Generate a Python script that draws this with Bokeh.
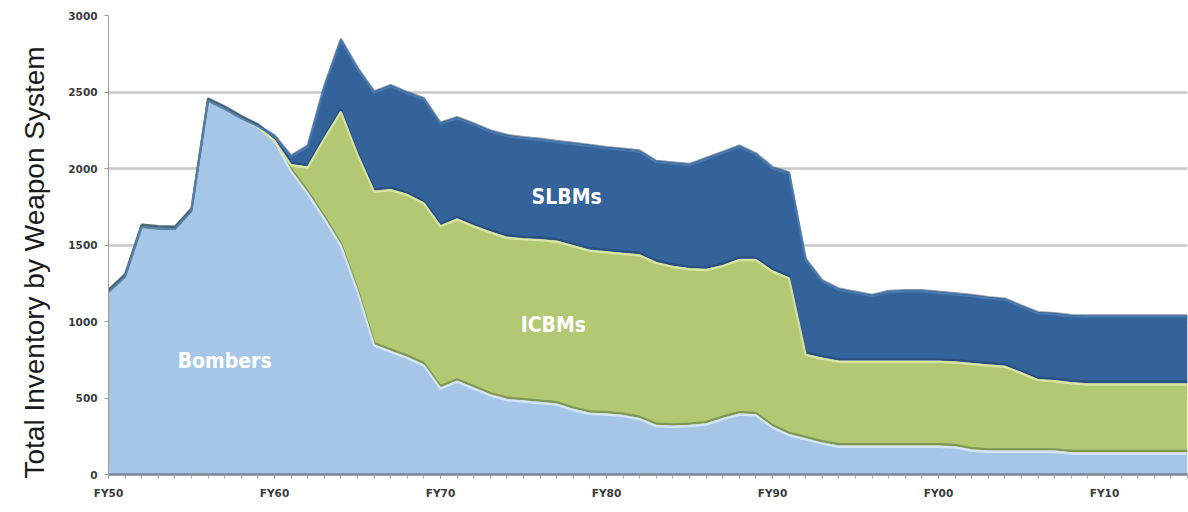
import numpy as np
from bokeh.plotting import figure
from bokeh.models import ColumnDataSource, FixedTicker, Label, Range1d, Title
from bokeh.embed import file_html
from bokeh.resources import INLINE

# ---------------- data ----------------
years = list(range(1950, 2016))

bombers = [1200, 1300, 1625, 1615, 1612, 1730, 2450, 2397, 2336, 2280,
           2190, 1990, 1845, 1680, 1503, 1205, 852, 810, 770, 720,
           570, 615, 570, 525, 495, 485, 475, 465, 430, 405,
           400, 390, 370, 325, 320, 325, 335, 370, 400, 395,
           315, 265, 238, 210, 190, 190, 190, 190, 190, 190,
           190, 185, 165, 157, 157, 157, 157, 157, 146, 146,
           146, 146, 146, 146, 146, 146]

icbms = [0, 0, 0, 0, 0, 0, 0, 0, 0, 0,
         0, 40, 170, 523, 876, 895, 1004, 1057, 1065, 1060,
         1060, 1060, 1060, 1065, 1060, 1060, 1065, 1065, 1070, 1065,
         1060, 1060, 1070, 1065, 1045, 1025, 1010, 1000, 1010, 1015,
         1020, 1025, 552, 555, 555, 555, 555, 555, 555, 555,
         555, 555, 565, 563, 555, 513, 468, 461, 459, 451,
         451, 451, 451, 451, 451, 451]

slbms = [0, 0, 0, 0, 0, 0, 0, 0, 0, 5,
         28, 55, 135, 337, 469, 560, 649, 678, 665, 680,
         670, 661, 665, 660, 665, 660, 655, 650, 668, 685,
         680, 680, 678, 660, 675, 680, 725, 740, 740, 690,
         675, 685, 620, 505, 470, 450, 430, 455, 460, 460,
         450, 445, 445, 440, 438, 435, 437, 437, 437, 443,
         443, 443, 443, 443, 443, 443]

x_tick_years = [1950, 1960, 1970, 1980, 1990, 2000, 2010]
x_tick_labels = ["FY50", "FY60", "FY70", "FY80", "FY90", "FY00", "FY10"]
y_ticks = [0, 500, 1000, 1500, 2000, 2500, 3000]

series_names = ["Bombers", "ICBMs", "SLBMs"]
label_pos = {"Bombers": (1957.0, 740), "ICBMs": (1976.8, 975), "SLBMs": (1977.6, 1815)}
y_title = "Total Inventory by Weapon System"

# ---------------- styles ----------------
fill_colors = {"Bombers": "#a6c6e8", "ICBMs": "#b2c872", "SLBMs": "#33639a"}
highlight = {"Bombers": "#dbe9f7", "ICBMs": "#dfe8a8", "SLBMs": "#4a7bb0"}
shadow = {"Bombers": "#54703a", "ICBMs": "#1f3f66", "SLBMs": "#24466e"}

src = ColumnDataSource(dict(year=years, Bombers=bombers, ICBMs=icbms, SLBMs=slbms))

p = figure(width=1188, height=512, output_backend="svg", toolbar_location=None,
           x_range=Range1d(1950, 2015), y_range=Range1d(0, 3000),
           min_border_left=108, min_border_right=1, min_border_top=15,
           min_border_bottom=38)
p.outline_line_color = None
p.background_fill_color = "white"
p.border_fill_color = "white"

p.varea_stack(stackers=series_names, x="year", source=src,
              color=[fill_colors[s] for s in series_names])

# bevel-like boundary lines
cum = np.zeros(len(years))
tops = {}
for s, vals in zip(series_names, [bombers, icbms, slbms]):
    cum = cum + np.array(vals, dtype=float)
    tops[s] = cum.copy()

xs = np.array(years, dtype=float)
for s in series_names:
    t = tops[s]
    sh_off = 8 if s != "SLBMs" else 0
    p.line(xs, t + sh_off, line_color=shadow[s], line_width=2.2, line_alpha=0.55)
    p.line(xs, t - 9, line_color=highlight[s], line_width=2.2, line_alpha=0.9)

# axes
p.xaxis.ticker = FixedTicker(ticks=x_tick_years, minor_ticks=years)
p.xaxis.major_label_overrides = {y: l for y, l in zip(x_tick_years, x_tick_labels)}
p.yaxis.ticker = FixedTicker(ticks=y_ticks)
p.xgrid.visible = False
p.ygrid.ticker = FixedTicker(ticks=y_ticks)
p.ygrid.grid_line_color = "#c8c8c8"
p.ygrid.grid_line_width = 2.5
p.ygrid.level = "underlay"

for ax in (p.xaxis, p.yaxis):
    ax.major_label_text_font = "DejaVu Sans"
    ax.major_label_text_font_style = "bold"
    ax.major_label_text_font_size = "10.5px"
    ax.major_label_text_color = "#3a3a3a"
    ax.major_tick_in = 0
    ax.minor_tick_in = 0

p.xaxis.axis_line_color = "#7a8494"
p.xaxis.axis_line_width = 2.5
p.xaxis.major_tick_out = 4
p.xaxis.minor_tick_out = 4
p.xaxis.major_tick_line_color = "#9aa0aa"
p.xaxis.minor_tick_line_color = "#9aa0aa"
p.xaxis.major_label_standoff = 8

p.yaxis.axis_line_color = "#9a9a9a"
p.yaxis.axis_line_width = 1
p.yaxis.major_tick_out = 4
p.yaxis.major_tick_line_color = "#9a9a9a"
p.yaxis.minor_tick_line_color = None
p.yaxis.major_label_standoff = 7

# y axis title as a side title (vertical) in the left border
ttl = Title(text=y_title, align="left", offset=-4, standoff=28,
            vertical_align="top", padding=0,
            text_font="Liberation Sans", text_font_size="28px",
            text_font_style="normal", text_color="#1a1a1a")
p.add_layout(ttl, "left")

for s in series_names:
    lx, ly = label_pos[s]
    p.add_layout(Label(x=lx, y=ly, text=s, text_align="center", text_baseline="middle",
                       text_font="DejaVu Sans Condensed", text_font_style="bold",
                       text_font_size="21px", text_color="white"))

open("out.html", "w").write(file_html(p, INLINE))
